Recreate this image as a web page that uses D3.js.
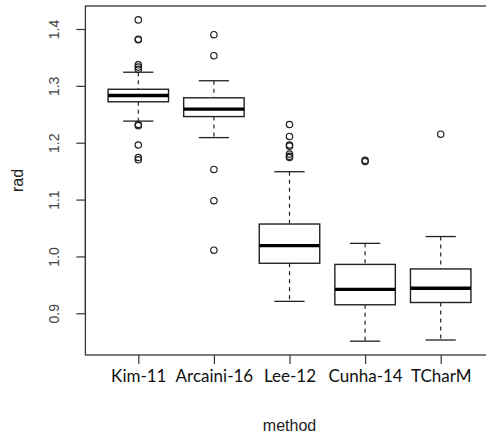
<!DOCTYPE html>
<html>
<head>
  <meta charset="utf-8">
  <title>rad by method</title>
  <script src="https://d3js.org/d3.v7.min.js"></script>
  <style>
    body {
      margin: 0;
      background: white;
    }
    .ytick {
      font-family: "Liberation Sans", Arial, sans-serif;
      font-size: 14px;
      fill: #444;
    }
    .xtick {
      font-family: Lato, "Open Sans", sans-serif;
      font-size: 17px;
      fill: #111;
    }
    .axis-title {
      font-family: "Liberation Sans", Arial, sans-serif;
      font-size: 16px;
      fill: #222;
    }
  </style>
</head>
<body>
  <div id="chart"></div>
  <script>

    // methods on the x axis
    var methods = ["Kim-11", "Arcaini-16", "Lee-12", "Cunha-14", "TCharM"];

    // box statistics (lower whisker, Q1, median, Q3, upper whisker)
    var lowerWhisker = [1.238, 1.209, 0.921, 0.851, 0.853];
    var q1 = [1.272, 1.246, 0.988, 0.915, 0.919];
    var medians = [1.283, 1.259, 1.019, 0.942, 0.944];
    var q3 = [1.294, 1.279, 1.057, 0.986, 0.978];
    var upperWhisker = [1.324, 1.309, 1.149, 1.023, 1.035];

    // outliers per method
    var outliers = [
      [1.416, 1.382, 1.381, 1.337, 1.333, 1.329, 1.232, 1.230, 1.196, 1.174, 1.170],
      [1.390, 1.353, 1.153, 1.098, 1.011],
      [1.232, 1.211, 1.196, 1.194, 1.180, 1.176, 1.174],
      [1.169, 1.167],
      [1.215]
    ];

    var yTicks = [0.9, 1.0, 1.1, 1.2, 1.3, 1.4];

    var width = 486, height = 438;
    var frame = {left: 85.4, right: 493.6, top: 6, bottom: 355};

    var svg = d3.select("#chart")
                .append("svg")
                .attr("width", width)
                .attr("height", height);

    var x = d3.scalePoint()
              .domain(methods)
              .range([100.5, 478.5])
              .padding(0.5);

    var y = d3.scaleLinear()
              .domain([0.9, 1.4])
              .range([313.3, 29]);

    var boxWidth = x.step() * 0.8;
    var capWidth = boxWidth / 2;

    var data = methods.map((m, i) => ({
        method: m,
        lo: lowerWhisker[i],
        q1: q1[i],
        med: medians[i],
        q3: q3[i],
        hi: upperWhisker[i],
        out: outliers[i]
    }));

    // y axis (R style, labels rotated)
    var yAxis = svg.append("g")
        .attr("transform", "translate(" + frame.left + ",0)")
        .call(d3.axisLeft(y).tickValues(yTicks).tickFormat(d3.format(".1f")).tickSize(9).tickSizeOuter(0));
    yAxis.select(".domain")
        .attr("d", "M0," + y(0.9) + "V" + y(1.4))
        .attr("stroke", "#333")
        .attr("stroke-width", 1.2);
    yAxis.selectAll(".tick line").attr("stroke", "#333").attr("stroke-width", 1.2);
    yAxis.selectAll(".tick text")
        .attr("class", "ytick")
        .attr("x", null).attr("dy", null)
        .attr("text-anchor", "middle")
        .attr("transform", "translate(-26.7,0) rotate(-90)");

    // x axis
    var xAxis = svg.append("g")
        .attr("transform", "translate(0," + frame.bottom + ")")
        .call(d3.axisBottom(x).tickSize(9).tickSizeOuter(0));
    xAxis.select(".domain").remove();
    xAxis.selectAll(".tick line").attr("stroke", "#333").attr("stroke-width", 1.2);
    xAxis.selectAll(".tick text")
        .attr("class", "xtick")
        .attr("y", 26.5)
        .attr("dy", null);

    // frame
    svg.append("rect")
        .attr("x", frame.left)
        .attr("y", frame.top)
        .attr("width", frame.right - frame.left)
        .attr("height", frame.bottom - frame.top)
        .attr("fill", "none")
        .attr("stroke", "#333")
        .attr("stroke-width", 1.3);

    var boxes = svg.selectAll(".box")
        .data(data)
        .enter()
        .append("g")
        .attr("class", "box")
        .attr("transform", d => "translate(" + x(d.method) + ",0)");

    // whiskers
    boxes.append("line")
        .attr("y1", d => y(d.hi)).attr("y2", d => y(d.q3))
        .attr("stroke", "#222").attr("stroke-width", 1.2).attr("stroke-dasharray", "4,4");
    boxes.append("line")
        .attr("y1", d => y(d.q1)).attr("y2", d => y(d.lo))
        .attr("stroke", "#222").attr("stroke-width", 1.2).attr("stroke-dasharray", "4,4");
    boxes.append("line")
        .attr("x1", -capWidth / 2).attr("x2", capWidth / 2)
        .attr("y1", d => y(d.hi)).attr("y2", d => y(d.hi))
        .attr("stroke", "#222").attr("stroke-width", 1.3);
    boxes.append("line")
        .attr("x1", -capWidth / 2).attr("x2", capWidth / 2)
        .attr("y1", d => y(d.lo)).attr("y2", d => y(d.lo))
        .attr("stroke", "#222").attr("stroke-width", 1.3);

    // box
    boxes.append("rect")
        .attr("x", -boxWidth / 2)
        .attr("width", boxWidth)
        .attr("y", d => y(d.q3))
        .attr("height", d => y(d.q1) - y(d.q3))
        .attr("fill", "white")
        .attr("stroke", "#222")
        .attr("stroke-width", 1.4);

    // median
    boxes.append("line")
        .attr("x1", -boxWidth / 2).attr("x2", boxWidth / 2)
        .attr("y1", d => y(d.med)).attr("y2", d => y(d.med))
        .attr("stroke", "#000").attr("stroke-width", 3.4);

    // outliers
    boxes.selectAll("circle")
        .data(d => d.out)
        .enter()
        .append("circle")
        .attr("cx", 0)
        .attr("cy", d => y(d))
        .attr("r", 3.2)
        .attr("fill", "none")
        .attr("stroke", "#222")
        .attr("stroke-width", 1.2);

    // axis titles
    svg.append("text")
        .attr("class", "axis-title")
        .attr("text-anchor", "middle")
        .attr("transform", "translate(22.5," + (frame.top + frame.bottom) / 2 + ") rotate(-90)")
        .text("rad");

    svg.append("text")
        .attr("class", "axis-title")
        .attr("text-anchor", "middle")
        .attr("x", (frame.left + frame.right) / 2)
        .attr("y", 430.5)
        .text("method");

  </script>
</body>
</html>
